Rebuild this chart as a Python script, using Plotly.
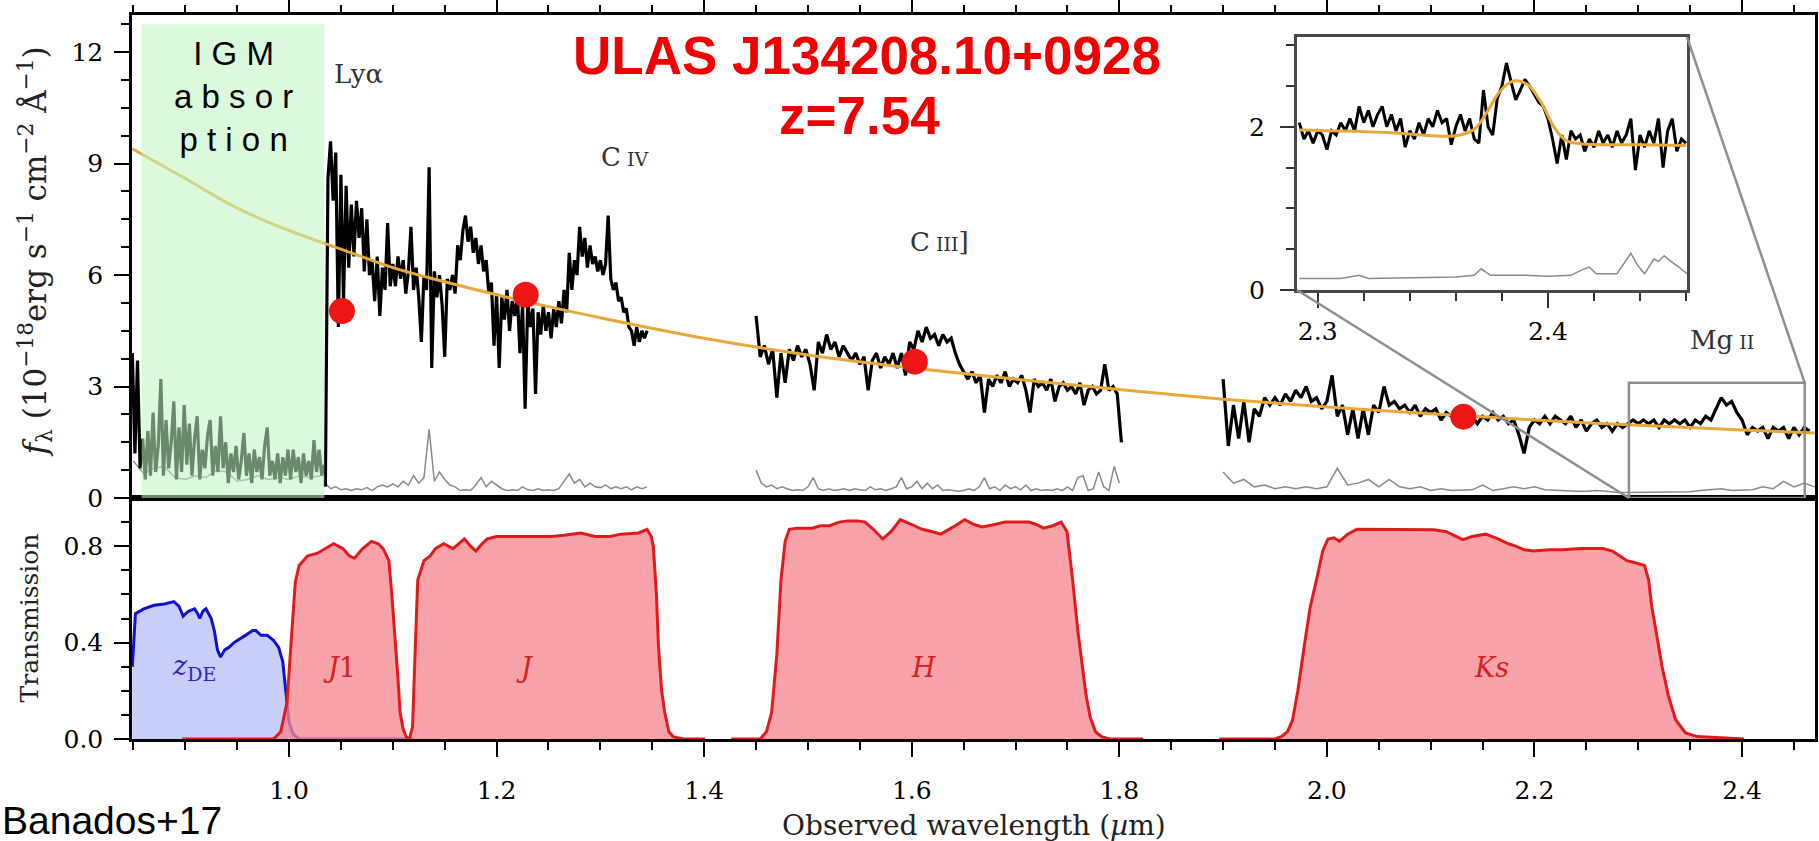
import numpy as np
import plotly.graph_objects as go

W = 1819
HF = 856      # page height that the screenshot squeezes into 841 rows
REF_H = 841   # reference picture height (positions below are given in its pixels)

# ---------------- data ----------------
# spectrum pixel grids (start, step) and fluxes (1e-18 erg/s/cm2/A)
IGM_START, IGM_STEP = 0.849, 0.0025
igm_flux = [3.9, 1.2, 3.7, 0.8, 1.6, 0.5, 1.8, 0.6, 2.3, 0.7, 1.4, 3.2, 0.6, 2.1, 0.8, 1.5,
            2.6, 0.5, 1.9, 0.7, 2.5, 0.9, 2.0, 0.6, 1.6, 2.2, 0.5, 1.3, 0.8, 1.7, 2.1, 0.6,
            1.4, 0.7, 2.2, 0.8, 1.5, 0.4, 1.2, 0.7, 1.4, 0.5, 1.0, 1.75, 0.6, 1.2, 0.4, 1.3,
            0.7, 1.1, 0.5, 1.4, 1.9, 0.6, 1.0, 0.5, 1.2, 0.4, 1.1, 0.6, 1.3, 0.5, 1.3, 0.7,
            1.1, 0.4, 1.2, 0.6, 1.0, 0.5, 1.56, 0.7, 1.3, 0.6, 0.9]

J_START, J_STEP = 1.035, 0.0025
j_flux = [0.3, 8.6, 9.6, 8.0, 9.3, 4.6, 8.7, 5.3, 8.4, 6.2, 7.9, 6.5, 8.0, 7.0, 7.8, 6.1,
          7.5, 6.0, 6.4, 5.3, 6.5, 4.9, 6.2, 5.6, 7.4, 5.7, 6.3, 5.7, 6.5, 5.9, 6.4, 5.5,
          6.1, 7.3, 5.6, 6.2, 5.4, 4.2, 6.0, 5.6, 8.9, 3.5, 6.1, 5.4, 6.0, 5.2, 3.8, 5.9,
          5.6, 6.0, 5.5, 6.8, 6.4, 7.2, 7.6, 6.9, 7.3, 6.6, 7.0, 6.3, 6.8, 6.1, 6.4, 5.5,
          5.8, 4.1, 5.5, 3.5, 5.4, 4.8, 5.6, 4.5, 5.3, 4.9, 5.5, 3.9, 5.2, 2.4, 5.3, 4.6,
          5.1, 2.8, 5.0, 4.4, 5.2, 4.5, 5.0, 4.3, 5.1, 4.6, 5.3, 4.7, 5.6, 5.0, 6.6, 5.6,
          6.4, 6.0, 7.3, 6.5, 7.0, 6.2, 6.8, 6.3, 6.5, 6.1, 6.4, 6.0, 6.3, 7.6, 5.9, 5.6,
          5.8, 5.3, 5.4, 5.0, 5.1, 4.6, 4.5, 4.1, 4.6, 4.2, 4.5, 4.3, 4.5]

H_START, H_STEP = 1.450, 0.004
h_flux = [4.9, 3.8, 4.1, 3.6, 4.0, 2.7, 3.9, 3.1, 4.0, 3.7, 4.1, 3.8, 4.0, 3.6, 2.9, 4.2,
          3.9, 4.4, 4.0, 4.2, 3.8, 4.1, 3.9, 3.7, 3.9, 3.6, 3.8, 2.9, 3.7, 3.9, 3.5, 3.8,
          3.6, 3.9, 3.5, 3.9, 3.3, 4.2, 4.0, 4.5, 4.2, 4.6, 4.3, 4.4, 4.1, 4.4, 4.2, 4.3,
          3.9, 3.6, 3.4, 3.2, 3.4, 3.1, 3.3, 2.3, 3.2, 3.0, 3.3, 3.1, 3.4, 3.0, 3.2, 3.1,
          3.3, 2.9, 2.3, 3.2, 3.0, 3.1, 2.9, 3.2, 2.6, 3.0, 3.1, 2.9, 3.0, 2.8, 3.1, 2.5,
          2.9, 3.0, 2.8, 2.9, 3.6, 2.9, 3.0, 2.8, 1.5]

K_START, K_STEP = 1.900, 0.005
k_flux = [3.2, 1.4, 2.5, 1.6, 2.6, 1.5, 2.4, 2.2, 2.7, 2.5, 2.7, 2.5, 2.8, 2.6, 2.9, 2.7,
          3.0, 2.6, 2.7, 2.4, 2.6, 3.3, 2.2, 2.5, 1.7, 2.4, 1.6, 2.4, 1.7, 2.5, 2.3, 3.0,
          2.5, 2.6, 2.4, 2.5, 2.3, 2.5, 2.2, 2.4, 2.3, 2.4, 2.1, 2.3, 2.2, 2.3, 2.2, 2.1,
          2.2, 2.0, 2.2, 2.1, 2.3, 2.1, 2.2, 2.0, 2.1, 1.7, 1.2, 1.9, 2.1, 2.0, 2.2, 2.0,
          2.2, 2.1, 2.0, 2.2, 1.9, 2.1, 1.8, 2.0, 2.1, 1.9, 2.0, 1.8, 2.0, 1.9, 2.0, 2.1,
          2.0, 2.1, 2.0, 2.1, 1.9, 2.1, 2.0, 2.1, 2.0, 2.1, 1.9, 2.1, 2.0, 2.2, 2.1, 2.4,
          2.7, 2.5, 2.6, 2.3, 2.1, 1.7, 1.9, 1.8, 1.9, 1.6, 1.9, 1.8, 1.9, 1.6, 1.9, 1.7,
          1.9, 1.8]

# error spectra
IGM_ERR_START, IGM_ERR_STEP = 0.85, 0.01
igm_err = [1.0, 0.65, 0.8, 0.85, 0.55, 0.5, 0.6, 0.55, 0.75, 0.7, 0.45, 0.5, 0.6, 0.5,
           0.55, 0.5, 0.6, 0.55, 0.6]
J_ERR_START, J_ERR_STEP = 1.035, 0.005
j_err = [0.4, 0.25, 0.3, 0.22, 0.25, 0.2, 0.25, 0.22, 0.28, 0.2, 0.3, 0.35, 0.3, 0.38,
         0.3, 0.45, 0.35, 0.6, 0.4, 0.55, 1.85, 0.45, 0.7, 0.5, 0.35, 0.3, 0.2, 0.22, 0.2,
         0.35, 0.55, 0.3, 0.45, 0.35, 0.25, 0.2, 0.22, 0.2, 0.3, 0.22, 0.2, 0.25, 0.2,
         0.22, 0.2, 0.25, 0.45, 0.65, 0.4, 0.5, 0.3, 0.4, 0.3, 0.28, 0.35, 0.25, 0.3,
         0.25, 0.3, 0.22, 0.3, 0.25, 0.3]
H_ERR_START, H_ERR_STEP = 1.45, 0.005
h_err = [0.75, 0.4, 0.3, 0.35, 0.25, 0.3, 0.25, 0.2, 0.22, 0.2, 0.3, 0.55, 0.25, 0.2,
         0.25, 0.2, 0.22, 0.25, 0.2, 0.25, 0.22, 0.2, 0.3, 0.22, 0.25, 0.2, 0.25, 0.3,
         0.55, 0.25, 0.3, 0.45, 0.25, 0.4, 0.25, 0.35, 0.2, 0.22, 0.2, 0.18, 0.2, 0.25,
         0.2, 0.3, 0.55, 0.25, 0.3, 0.2, 0.35, 0.25, 0.3, 0.22, 0.35, 0.2, 0.25, 0.2,
         0.22, 0.2, 0.25, 0.2, 0.3, 0.2, 0.55, 0.6, 0.2, 0.25, 0.7, 0.3, 0.2, 0.85, 0.4]
K_ERR_START, K_ERR_STEP = 1.90, 0.01
k_err = [0.7, 0.4, 0.5, 0.3, 0.35, 0.25, 0.3, 0.25, 0.3, 0.25, 0.3, 0.8, 0.35, 0.4, 0.5,
         0.3, 0.5, 0.3, 0.25, 0.3, 0.2, 0.25, 0.2, 0.2, 0.22, 0.35, 0.2, 0.25, 0.3, 0.25,
         0.3, 0.22, 0.2, 0.2, 0.18, 0.18, 0.2, 0.18, 0.15, 0.15, 0.15, 0.15, 0.16, 0.15,
         0.16, 0.17, 0.2, 0.22, 0.25, 0.2, 0.2, 0.22, 0.3, 0.25, 0.45, 0.3, 0.4, 0.3]

# continuum model
cont_wl = [0.849, 0.9, 0.95, 1.0, 1.05, 1.1, 1.15, 1.2, 1.25, 1.3, 1.4, 1.5, 1.6, 1.7,
           1.8, 1.9, 2.0, 2.1, 2.2, 2.3, 2.4, 2.47]
cont_f = [9.4, 8.6, 7.8, 7.2, 6.7, 6.2, 5.82, 5.47, 5.15, 4.85, 4.3, 3.85, 3.5, 3.2,
          2.92, 2.66, 2.45, 2.27, 2.1, 1.96, 1.83, 1.75]

# photometry
phot_wl = [1.051, 1.228, 1.603, 2.1315]
phot_f = [5.03, 5.47, 3.67, 2.19]

# inset (Mg II zoom)
INS_START, INS_STEP = 2.292, 0.002
ins_flux = [2.05, 1.85, 1.95, 1.8, 1.95, 1.9, 1.72, 1.95, 1.9, 2.05, 1.95, 2.1, 1.95, 2.25,
            2.05, 2.2, 2.0, 2.15, 2.25, 2.0, 2.15, 1.95, 2.1, 1.75, 1.95, 1.85, 2.05, 1.9,
            2.1, 2.0, 2.2, 2.05, 2.1, 1.78, 2.0, 2.15, 1.95, 2.1, 1.85, 1.8, 2.45, 2.0,
            1.9, 2.35, 2.5, 2.78, 2.55, 2.33, 2.45, 2.58, 2.5, 2.4, 2.3, 2.25, 2.1, 1.85,
            1.55, 1.9, 1.6, 1.95, 1.85, 1.9, 1.7, 1.85, 1.75, 1.95, 1.8, 1.9, 1.75, 1.95,
            1.8, 1.9, 2.1, 1.47, 1.9, 1.75, 1.95, 1.8, 2.1, 1.5, 1.95, 2.1, 1.7, 1.85, 1.8]
ins_model_wl = [2.292, 2.33, 2.36, 2.368, 2.374, 2.379, 2.385, 2.391, 2.397, 2.403, 2.408,
                2.415, 2.44, 2.46]
ins_model_f = [1.96, 1.93, 1.89, 1.97, 2.2, 2.43, 2.56, 2.52, 2.3, 1.98, 1.83, 1.79, 1.78, 1.77]
ins_err_wl = [2.292, 2.31, 2.318, 2.322, 2.36, 2.368, 2.371, 2.375, 2.39, 2.40, 2.41, 2.415,
              2.418, 2.421, 2.43, 2.434, 2.436, 2.439, 2.442, 2.446, 2.448, 2.4505, 2.453,
              2.456, 2.4604]
ins_err = [0.14, 0.14, 0.18, 0.14, 0.16, 0.18, 0.26, 0.18, 0.18, 0.17, 0.18, 0.25, 0.28,
           0.2, 0.2, 0.36, 0.45, 0.3, 0.2, 0.38, 0.35, 0.42, 0.36, 0.3, 0.2]

# filter transmission curves
zde_wl = [0.849, 0.852, 0.860, 0.870, 0.880, 0.889, 0.894, 0.898, 0.903, 0.909, 0.912, 0.914,
          0.917, 0.920, 0.925, 0.928, 0.931, 0.934, 0.938, 0.942, 0.947, 0.951, 0.958, 0.965,
          0.968, 0.973, 0.979, 0.985, 0.990, 0.994, 0.997, 1.000, 1.004, 1.010, 1.120]
zde_t = [0.30, 0.52, 0.54, 0.555, 0.56, 0.57, 0.55, 0.51, 0.53, 0.54, 0.52, 0.50, 0.53, 0.54,
         0.50, 0.45, 0.37, 0.34, 0.37, 0.38, 0.40, 0.41, 0.43, 0.45, 0.45, 0.43, 0.43, 0.41,
         0.38, 0.32, 0.20, 0.07, 0.02, 0.0, 0.0]
j1_wl = [0.897, 0.985, 0.992, 0.998, 1.002, 1.006, 1.0097, 1.018, 1.027, 1.035, 1.043, 1.052,
         1.058, 1.063, 1.071, 1.0794, 1.086, 1.0906, 1.0962, 1.099, 1.1017, 1.105, 1.107,
         1.110, 1.113, 1.116]
j1_t = [0.0, 0.0, 0.03, 0.15, 0.40, 0.65, 0.72, 0.76, 0.77, 0.79, 0.81, 0.79, 0.76, 0.75,
        0.79, 0.82, 0.81, 0.79, 0.74, 0.60, 0.45, 0.25, 0.11, 0.04, 0.01, 0.0]
j_wl = [1.116, 1.119, 1.121, 1.124, 1.130, 1.136, 1.141, 1.149, 1.158, 1.163, 1.169, 1.175,
        1.180, 1.186, 1.191, 1.200, 1.208, 1.230, 1.253, 1.265, 1.281, 1.295, 1.309, 1.320,
        1.337, 1.345, 1.349, 1.351, 1.354, 1.356, 1.359, 1.362, 1.366, 1.370, 1.380, 1.401]
j_t = [0.0, 0.05, 0.3, 0.66, 0.74, 0.76, 0.79, 0.81, 0.79, 0.81, 0.83, 0.80, 0.78, 0.81, 0.83,
       0.84, 0.84, 0.84, 0.84, 0.845, 0.855, 0.84, 0.84, 0.85, 0.855, 0.87, 0.84, 0.80, 0.60,
       0.38, 0.20, 0.11, 0.03, 0.01, 0.0, 0.0]
h_wl = [1.426, 1.454, 1.460, 1.465, 1.470, 1.474, 1.478, 1.482, 1.490, 1.504, 1.512, 1.521,
        1.530, 1.538, 1.548, 1.555, 1.563, 1.572, 1.580, 1.589, 1.600, 1.610, 1.620, 1.628,
        1.640, 1.651, 1.660, 1.668, 1.680, 1.690, 1.700, 1.713, 1.720, 1.727, 1.736, 1.744,
        1.7496, 1.752, 1.755, 1.760, 1.764, 1.768, 1.772, 1.777, 1.783, 1.790, 1.823]
h_t = [0.0, 0.0, 0.03, 0.11, 0.35, 0.66, 0.82, 0.87, 0.875, 0.875, 0.885, 0.885, 0.90, 0.905,
       0.905, 0.90, 0.87, 0.83, 0.86, 0.91, 0.89, 0.87, 0.86, 0.85, 0.88, 0.91, 0.89, 0.88,
       0.89, 0.90, 0.90, 0.90, 0.89, 0.875, 0.885, 0.90, 0.86, 0.78, 0.66, 0.45, 0.315, 0.18,
       0.09, 0.03, 0.01, 0.0, 0.0]
ks_wl = [1.8965, 1.950, 1.956, 1.962, 1.967, 1.972, 1.978, 1.984, 1.990, 1.996, 2.001, 2.007,
         2.012, 2.020, 2.029, 2.05, 2.069, 2.090, 2.103, 2.115, 2.125, 2.131, 2.140, 2.153,
         2.165, 2.175, 2.182, 2.190, 2.199, 2.215, 2.227, 2.245, 2.266, 2.275, 2.282, 2.289,
         2.298, 2.306, 2.310, 2.313, 2.317, 2.323, 2.329, 2.336, 2.3455, 2.357, 2.402]
ks_t = [0.0, 0.0, 0.01, 0.03, 0.08, 0.20, 0.38, 0.55, 0.66, 0.78, 0.83, 0.835, 0.82, 0.85,
        0.87, 0.87, 0.871, 0.87, 0.868, 0.86, 0.84, 0.827, 0.84, 0.85, 0.83, 0.81, 0.80, 0.785,
        0.78, 0.785, 0.785, 0.79, 0.79, 0.78, 0.76, 0.74, 0.73, 0.72, 0.66, 0.55, 0.45, 0.30,
        0.18, 0.08, 0.025, 0.01, 0.0]

filter_labels = ["<i>z</i><sub>DE</sub>", "<i>J</i>1", "<i>J</i>", "<i>H</i>", "<i>Ks</i>"]
filter_label_wl = [0.9085, 1.049, 1.227, 1.611, 2.159]
FILTER_LABEL_T = 0.295
line_labels = ["Lyα", "C<span style='font-size:19px'> IV</span>",
               "C<span style='font-size:19px'> III</span>]",
               "Mg<span style='font-size:19px'> II</span>"]
line_label_wl = [1.0665, 1.3228, 1.627, 2.381]
line_label_f = [11.4, 9.19, 6.9, 4.26]

IGM_BOX = (0.858, 1.034, 12.75)

# ---------------- layout geometry (reference pixel rows from the top) ----------------
def py(p):
    return 1 - p / REF_H


XR = [0.8487, 2.4703]
YR_TOP = [0, 13.0]
YR_BOT = [0, 1.0]
XD = [132 / W, 1815 / W]
YD_TOP = [py(498), py(15)]
YD_BOT = [py(739), py(498)]
INS_XR = [2.291, 2.4604]
INS_YR = [0, 3.1]
INS_XD = [1297 / W, 1687 / W]
INS_YD = [py(290), py(37)]

SERIF = "DejaVu Serif"
SANS = "Liberation Sans"


def grid(start, step, vals):
    return start + step * np.arange(len(vals))


def to_paper(v, rng, dom):
    return dom[0] + (v - rng[0]) / (rng[1] - rng[0]) * (dom[1] - dom[0])


fig = go.Figure()
BLACK = dict(color="black", width=3.2)
GRAY = dict(color="#8a8a8a", width=1.5)
ORANGE = dict(color="#e9a93a", width=3)

# top panel (x2, y2)
for s, st, v in [(IGM_ERR_START, IGM_ERR_STEP, igm_err), (J_ERR_START, J_ERR_STEP, j_err),
                 (H_ERR_START, H_ERR_STEP, h_err), (K_ERR_START, K_ERR_STEP, k_err)]:
    fig.add_trace(go.Scatter(x=grid(s, st, v), y=v, mode="lines", line=GRAY,
                             xaxis="x2", yaxis="y2", hoverinfo="skip"))
for s, st, v in [(IGM_START, IGM_STEP, igm_flux), (J_START, J_STEP, j_flux),
                 (H_START, H_STEP, h_flux), (K_START, K_STEP, k_flux)]:
    fig.add_trace(go.Scatter(x=grid(s, st, v), y=v, mode="lines", line=BLACK,
                             xaxis="x2", yaxis="y2"))
fig.add_trace(go.Scatter(x=cont_wl, y=cont_f, mode="lines", line=ORANGE, line_shape="spline",
                         xaxis="x2", yaxis="y2"))
fig.add_trace(go.Scatter(x=phot_wl, y=phot_f, mode="markers",
                         marker=dict(size=26, color="#ee1515"), xaxis="x2", yaxis="y2"))

# inset (x3, y3)
fig.add_trace(go.Scatter(x=ins_err_wl, y=ins_err, mode="lines", line=dict(color="#8a8a8a", width=1.5),
                         xaxis="x3", yaxis="y3"))
fig.add_trace(go.Scatter(x=grid(INS_START, INS_STEP, ins_flux), y=ins_flux, mode="lines",
                         line=dict(color="black", width=3), xaxis="x3", yaxis="y3"))
fig.add_trace(go.Scatter(x=ins_model_wl, y=ins_model_f, mode="lines", line=ORANGE,
                         line_shape="spline", xaxis="x3", yaxis="y3"))

# bottom panel filters (x, y)
RED = "#e11b1b"
PINK = "rgba(245,135,145,0.78)"
fig.add_trace(go.Scatter(x=zde_wl, y=zde_t, mode="lines", fill="tozeroy",
                         fillcolor="rgba(170,180,245,0.65)", line=dict(color="#1010d0", width=3),
                         xaxis="x", yaxis="y"))
for wl, t in [(j1_wl, j1_t), (j_wl, j_t), (h_wl, h_t), (ks_wl, ks_t)]:
    fig.add_trace(go.Scatter(x=wl, y=t, mode="lines", fill="tozeroy", fillcolor=PINK,
                             line=dict(color=RED, width=3), xaxis="x", yaxis="y"))

tickfont = dict(family=SERIF, size=25, color="black")
common = dict(showgrid=False, zeroline=False, showline=True, linecolor="black", linewidth=2.5,
              mirror=True, ticks="outside", tickcolor="black", tickwidth=2, tickfont=tickfont)

fig.update_layout(
    width=W, height=HF, autosize=False, margin=dict(l=0, r=0, t=0, b=0),
    paper_bgcolor="white", plot_bgcolor="white", showlegend=False,
    xaxis=dict(domain=XD, range=XR, anchor="y", tickmode="linear", tick0=0, dtick=0.2,
               tickformat=".1f", ticklen=15, ticklabelstandoff=12,
               minor=dict(tickmode="linear", tick0=0, dtick=0.05, ticklen=8, ticks="outside",
                          tickwidth=2, tickcolor="black"), **common),
    xaxis2=dict(domain=XD, range=XR, anchor="y2", side="top", tickmode="linear", tick0=0,
                dtick=0.2, showticklabels=False, ticklen=12,
                minor=dict(tickmode="linear", tick0=0, dtick=0.05, ticklen=7, ticks="outside",
                           tickwidth=2, tickcolor="black"), **common),
    yaxis=dict(domain=YD_BOT, range=YR_BOT, anchor="x", tickmode="linear", tick0=0, dtick=0.4,
               tickformat=".1f", ticklen=15, ticklabelstandoff=6,
               minor=dict(tickmode="linear", tick0=0, dtick=0.1, ticklen=8, ticks="outside",
                          tickwidth=2, tickcolor="black"), **common),
    yaxis2=dict(domain=YD_TOP, range=YR_TOP, anchor="x2", tickmode="linear", tick0=0, dtick=3,
                ticklen=15, ticklabelstandoff=6,
                minor=dict(tickmode="linear", tick0=0, dtick=0.75, ticklen=8, ticks="outside",
                           tickwidth=2, tickcolor="black"), **common),
    xaxis3=dict(domain=INS_XD, range=INS_XR, anchor="y3", tickmode="linear", tick0=2.3,
                dtick=0.1, tickformat=".1f", ticklen=15, ticklabelstandoff=2,
                showgrid=False, zeroline=False, showline=True, linecolor="#484848", linewidth=3,
                mirror=True, ticks="outside", tickcolor="#333", tickwidth=2, tickfont=tickfont,
                minor=dict(tickmode="linear", tick0=2.3, dtick=0.02, ticklen=8, ticks="outside",
                           tickwidth=2, tickcolor="#333")),
    yaxis3=dict(domain=INS_YD, range=INS_YR, anchor="x3", tickmode="linear", tick0=0, dtick=2,
                ticklen=14, ticklabelstandoff=10,
                showgrid=False, zeroline=False, showline=True, linecolor="#484848", linewidth=3,
                mirror=True, ticks="outside", tickcolor="#333", tickwidth=2, tickfont=tickfont,
                minor=dict(tickmode="linear", tick0=0, dtick=0.5, ticklen=8, ticks="outside",
                           tickwidth=2, tickcolor="#333")),
)

# shapes: IGM box, zoom box and connectors
shapes = [
    dict(type="rect", xref="x2", yref="y2", x0=IGM_BOX[0], x1=IGM_BOX[1], y0=0, y1=IGM_BOX[2],
         fillcolor="rgba(190,246,190,0.56)", line=dict(width=0), layer="above"),
    dict(type="rect", xref="x2", yref="y2", x0=INS_XR[0], x1=INS_XR[1], y0=INS_YR[0],
         y1=INS_YR[1], line=dict(color="#8f8f8f", width=2.5), layer="above"),
]
bx0 = to_paper(INS_XR[0], XR, XD); bx1 = to_paper(INS_XR[1], XR, XD)
by0 = to_paper(INS_YR[0], YR_TOP, YD_TOP); by1 = to_paper(INS_YR[1], YR_TOP, YD_TOP)
shapes.append(dict(type="line", xref="paper", yref="paper", x0=INS_XD[0], y0=INS_YD[0],
                   x1=bx0, y1=by0, line=dict(color="#8f8f8f", width=2.5), layer="above"))
shapes.append(dict(type="line", xref="paper", yref="paper", x0=INS_XD[1], y0=INS_YD[1],
                   x1=bx1, y1=by1, line=dict(color="#8f8f8f", width=2.5), layer="above"))
fig.update_layout(shapes=shapes)

C = dict(xanchor="center", yanchor="middle", showarrow=False)
ann = []
ann.append(dict(text="<b>ULAS J134208.10+0928</b>", x=867 / W, y=py(55), xref="paper",
                yref="paper", font=dict(family=SANS, size=53, color="#f20000"), **C))
ann.append(dict(text="<b>z=7.54</b>", x=859 / W, y=py(115), xref="paper", yref="paper",
                font=dict(family=SANS, size=53, color="#f20000"), **C))
ann.append(dict(text="I G M<br>a b s o r<br>p t i o n", x=233 / W, y=py(96),
                xref="paper", yref="paper", font=dict(family=SANS, size=33, color="black"), **C))
ann.append(dict(text="Banados+17", x=0, y=py(820), xref="paper", yref="paper",
                xanchor="left", yanchor="middle", showarrow=False,
                font=dict(family=SANS, size=39, color="black")))
ann.append(dict(text="<i>f</i><sub>λ</sub> (10<sup>−18</sup>erg s<sup>−1</sup> cm<sup>−2</sup> Å<sup>−1</sup>)",
                x=35 / W, y=(YD_TOP[0] + YD_TOP[1]) / 2 + 0.006, xref="paper", yref="paper",
                textangle=-90, font=dict(family=SERIF, size=31, color="#222"), **C))
ann.append(dict(text="Transmission", x=29 / W, y=(YD_BOT[0] + YD_BOT[1]) / 2, xref="paper",
                yref="paper", textangle=-90, font=dict(family=SERIF, size=25, color="#222"), **C))
ann.append(dict(text="Observed wavelength (<i>µ</i>m)", x=(XD[0] + XD[1]) / 2, y=py(825),
                xref="paper", yref="paper", font=dict(family=SERIF, size=28, color="#222"), **C))
for t, xw, yf in zip(line_labels, line_label_wl, line_label_f):
    ann.append(dict(text=t, x=xw, y=yf, xref="x2", yref="y2",
                    font=dict(family=SERIF, size=26, color="#333"), **C))
for i, (t, xw) in enumerate(zip(filter_labels, filter_label_wl)):
    ann.append(dict(text=t, x=xw, y=FILTER_LABEL_T, xref="x", yref="y",
                    font=dict(family=SERIF, size=27, color="#2525c8" if i == 0 else "#d42020"), **C))
fig.update_layout(annotations=ann)

fig.write_html("out.html", post_script=(
    "document.documentElement.style.overflow='hidden';"
    "document.body.style.overflow='hidden';document.body.style.margin='0';"))
